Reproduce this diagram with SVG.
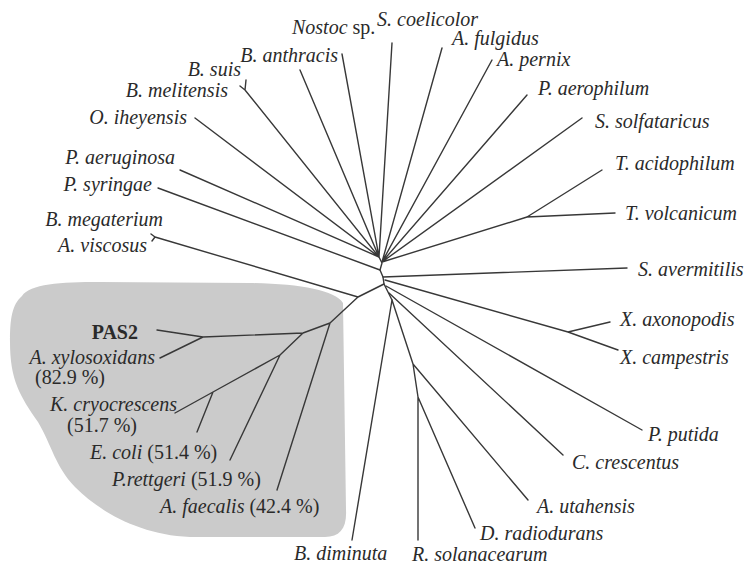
<svg xmlns="http://www.w3.org/2000/svg" width="747" height="569" viewBox="0 0 747 569">
<style>
text{font-family:"Liberation Serif","Times New Roman",serif;font-size:20px;fill:#2a2a2a;font-style:italic}
.r{font-style:normal}
.b{font-style:normal;font-weight:bold}
.e{text-anchor:end}
#edges path,#edges polyline{fill:none;stroke:#383838;stroke-width:1.4;stroke-linecap:round;stroke-linejoin:round}
</style>
<rect width="747" height="569" fill="#ffffff"/>
<path id="clade" d="M22,296 C30,284 60,282 100,282 L250,283 C300,284 335,290 343,303 L346,510 C347,528 340,537 325,537 L190,537 C140,535 100,512 75,487 C55,466 52,446 38,422 C20,396 10,380 10,342 C10,318 12,305 22,296 Z" fill="#cbcbcb"/>
<g id="edges">
<polyline points="379,257 382,263 380,270 383,277 384,284 392,300"/>
<path d="M195,118 L379,257 M245,90 L379,257 M245,90 L246,80 M245,90 L240,86 M300,70 L379,257 M342,54 L379,257 M392,43 L379,257 M180,170 L379,257 M158,188 L380,270"/>
<path d="M442,48 L382,262 M492,60 L382,262 M527,95 L382,262 M582,118 L382,262 M382,262 L527,217 L602,170 M527,217 L615,213"/>
<path d="M383,277 L627,268 M385,280 L568,332 L618,350 M568,332 L610,322 M386,286 L642,430 M389,293 L563,455"/>
<path d="M392,300 L352,540 M392,300 L413,364 L528,500 M413,364 L418,397 L418,540 M418,397 L475,528"/>
<path d="M384,284 L358,297 M155,237 L358,297 M155,237 L151,234 M155,237 L152,241 M358,297 L330,323 L277,490 M330,323 L303,333 L203,337 L157,330 M203,337 L160,358 M303,333 L280,355 L230,460 M280,355 L213,392 L175,413 M213,392 L197,432"/>
</g>
<g id="n-nostoc"><text x="292" y="34">Nostoc<tspan class="r"> sp.</tspan></text></g>
<g id="n-scoelicolor"><text x="377" y="26">S. coelicolor</text></g>
<g id="n-afulgidus"><text x="452" y="45">A. fulgidus</text></g>
<g id="n-apernix"><text x="497" y="66">A. pernix</text></g>
<g id="n-paerophilum"><text x="538" y="95">P. aerophilum</text></g>
<g id="n-ssolfataricus"><text x="595" y="128">S. solfataricus</text></g>
<g id="n-tacidophilum"><text x="615" y="170">T. acidophilum</text></g>
<g id="n-tvolcanicum"><text x="625" y="220">T. volcanicum</text></g>
<g id="n-savermitilis"><text x="638" y="276">S. avermitilis</text></g>
<g id="n-xaxonopodis"><text x="620" y="326">X. axonopodis</text></g>
<g id="n-xcampestris"><text x="620" y="364">X. campestris</text></g>
<g id="n-pputida"><text x="648" y="441">P. putida</text></g>
<g id="n-ccrescentus"><text x="572" y="469">C. crescentus</text></g>
<g id="n-autahensis"><text x="537" y="513">A. utahensis</text></g>
<g id="n-dradiodurans"><text x="480" y="540">D. radiodurans</text></g>
<g id="n-rsolanacearum"><text x="412" y="561">R. solanacearum</text></g>
<g id="n-bdiminuta"><text x="294" y="560">B. diminuta</text></g>
<g id="n-banthracis"><text class="e" x="338" y="62">B. anthracis</text></g>
<g id="n-bsuis"><text class="e" x="241" y="76">B. suis</text></g>
<g id="n-bmelitensis"><text class="e" x="228" y="97">B. melitensis</text></g>
<g id="n-oiheyensis"><text class="e" x="187" y="124">O. iheyensis</text></g>
<g id="n-paeruginosa"><text class="e" x="175" y="164">P. aeruginosa</text></g>
<g id="n-psyringae"><text class="e" x="152" y="191">P. syringae</text></g>
<g id="n-bmegaterium"><text class="e" x="163" y="226">B. megaterium</text></g>
<g id="n-aviscosus"><text class="e" x="147" y="252">A. viscosus</text></g>
<g id="n-pas2"><text class="b e" x="138" y="339">PAS2</text></g>
<g id="n-axylosoxidans"><text class="e" x="155" y="364">A. xylosoxidans</text><text class="r" x="35" y="384">(82.9 %)</text></g>
<g id="n-kcryocrescens"><text class="e" x="177" y="411">K. cryocrescens</text><text class="r" x="67" y="432">(51.7 %)</text></g>
<g id="n-ecoli"><text x="90" y="459">E. coli<tspan class="r"> (51.4 %)</tspan></text></g>
<g id="n-prettgeri"><text x="112" y="486">P.rettgeri<tspan class="r"> (51.9 %)</tspan></text></g>
<g id="n-afaecalis"><text x="160" y="513">A. faecalis<tspan class="r"> (42.4 %)</tspan></text></g>
</svg>
